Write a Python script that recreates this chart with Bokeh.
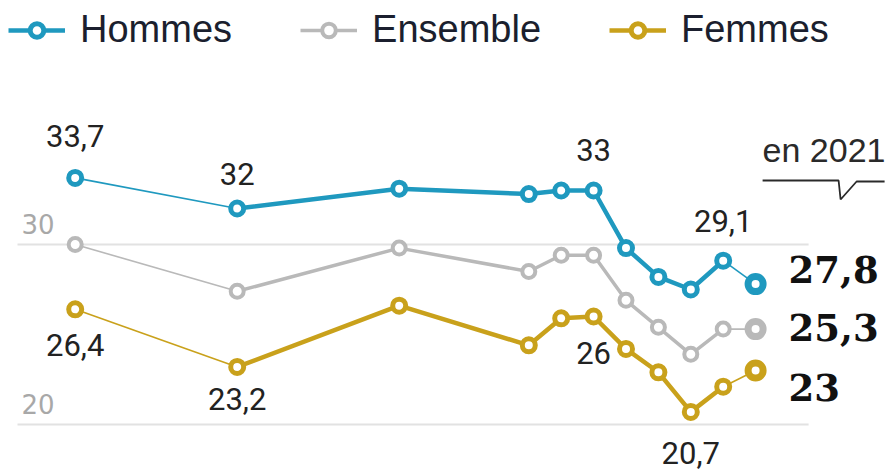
from bokeh.plotting import figure
from bokeh.models import Range1d, Legend, LegendItem, ColumnDataSource
from bokeh.core.properties import value
from bokeh.embed import file_html
from bokeh.resources import INLINE

# ---------------- data ----------------
years = [2000, 2005, 2010, 2014, 2015, 2016, 2017, 2018, 2019, 2020, 2021]
hommes = [33.7, 32.0, 33.1, 32.8, 33.0, 33.0, 29.8, 28.2, 27.5, 29.1, 27.8]
ensemble = [30.0, 27.4, 29.8, 28.5, 29.4, 29.4, 26.9, 25.4, 23.9, 25.3, 25.3]
femmes = [26.4, 23.2, 26.6, 24.4, 25.9, 26.0, 24.2, 22.9, 20.7, 22.1, 23.0]
series_names = ["Hommes", "Ensemble", "Femmes"]
y_ticks = [20, 30]
last_label = "en 2021"
labeled_years_hommes = [2000, 2005, 2016, 2020]
labeled_years_femmes = [2000, 2005, 2016, 2019]

# ---------------- style ----------------
COLORS = {"Hommes": "#1f99bf", "Ensemble": "#b9b9b9", "Femmes": "#c9a11b"}
THICK = {"Hommes": 4.5, "Ensemble": 3.5, "Femmes": 4.5}
MK_LW = {"Hommes": 5, "Ensemble": 4, "Femmes": 5}
LABEL_FONT = value("Roboto")
SANS = value("Liberation Sans")


def fr(v):
    s = f"{v:.1f}"
    if s.endswith(".0"):
        s = s[:-2]
    return s.replace(".", ",")


W, H = 893, 471
PX_PER_YEAR = 32.4
PX_PER_UNIT = 18.0
x0 = years[0] - 74.7 / PX_PER_YEAR
y_top = 30 + 244 / PX_PER_UNIT

p = figure(width=W, height=H, output_backend="svg", toolbar_location=None,
           x_range=Range1d(x0, x0 + W / PX_PER_YEAR),
           y_range=Range1d(y_top - H / PX_PER_UNIT, y_top),
           min_border=0)
p.xaxis.visible = False
p.yaxis.visible = False
p.grid.visible = False
p.outline_line_color = None
p.background_fill_color = "white"
p.border_fill_color = "white"

# grid lines (limited extent)
gx0 = years[0] - 57.7 / PX_PER_YEAR
gx1 = years[-1] + 53 / PX_PER_YEAR
p.segment(x0=[gx0] * len(y_ticks), x1=[gx1] * len(y_ticks), y0=y_ticks, y1=y_ticks,
          line_color="#e2e2e2", line_width=2)
p.text(x=[gx0] * len(y_ticks), y=y_ticks, text=[str(t) for t in y_ticks],
       x_offset=4, y_offset=-21, text_font=value("DejaVu Sans"), text_font_size="26px",
       text_color="#a8a8a8", text_baseline="alphabetic", text_align="left")

items = []
data = {"Hommes": hommes, "Ensemble": ensemble, "Femmes": femmes}
for name in series_names:
    vals = data[name]
    c = COLORS[name]
    # thin segments at both ends
    p.line(years[:2], vals[:2], line_color=c, line_width=1.6)
    p.line(years[-2:], vals[-2:], line_color=c, line_width=1.6)
    main = p.line(years[1:-1], vals[1:-1], line_color=c, line_width=THICK[name],
                  line_join="round")
    sc = p.scatter(years[:-1], vals[:-1], size=13, fill_color="white",
                   line_color=c, line_width=MK_LW[name])
    p.scatter(years[-1:], vals[-1:], size=15, fill_color="white",
              line_color=c, line_width=7)
    items.append(LegendItem(label=name, renderers=[main, sc]))

# value labels
above_dy = {2000: -42, 2005: -35, 2016: -41, 2020: -40}
below_dy = {2000: 36, 2005: 32, 2016: 36, 2019: 41}
lx, ly, lt, ldy = [], [], [], []
for yr in labeled_years_hommes:
    i = years.index(yr)
    lx.append(yr); ly.append(hommes[i]); lt.append(fr(hommes[i])); ldy.append(above_dy[yr])
for yr in labeled_years_femmes:
    i = years.index(yr)
    lx.append(yr); ly.append(femmes[i]); lt.append(fr(femmes[i])); ldy.append(below_dy[yr])
src = ColumnDataSource(dict(x=lx, y=ly, t=lt, dy=ldy))
p.text(x="x", y="y", text="t", y_offset="dy", source=src, text_font=LABEL_FONT,
       text_font_size="31px", text_color="#222222", text_align="center",
       text_baseline="alphabetic")

# last values, bold
last_vals = [hommes[-1], ensemble[-1], femmes[-1]]
src2 = ColumnDataSource(dict(x=[years[-1]] * 3, y=last_vals, t=[fr(v) for v in last_vals],
                             dy=[-15, -2, 17]))
p.text(x="x", y="y", text="t", y_offset="dy", x_offset=33, source=src2,
       text_font=value("DejaVu Serif"), text_font_style="bold", text_font_size="37px",
       text_color="#111111", text_align="left", text_baseline="alphabetic")

# "en 2021" callout
ann_y = 30 + (244 - 162) / PX_PER_UNIT
p.text(x=[years[-1]], y=[ann_y], text=[last_label], x_offset=7, y_offset=-13,
       text_font=SANS, text_font_size="34px", text_color="#2a2a2a", text_align="left",
       text_baseline="alphabetic")
cx = [years[-1] + (px - 755) / PX_PER_YEAR for px in (762, 838, 840, 856, 884)]
cy = [30 + (244 - py) / PX_PER_UNIT for py in (180, 180, 199, 181, 181)]
p.line(cx, cy, line_color="#2a2a2a", line_width=1.8)

legend = Legend(items=items, location="top_left", orientation="horizontal",
                padding=0, margin=8, spacing=68, glyph_width=57, glyph_height=34,
                label_standoff=15, label_text_font="Liberation Sans",
                label_text_font_size="38px", label_text_color="#1b1f2e",
                border_line_color=None, background_fill_alpha=0)
p.add_layout(legend)

open("out.html", "w").write(file_html(p, INLINE))
